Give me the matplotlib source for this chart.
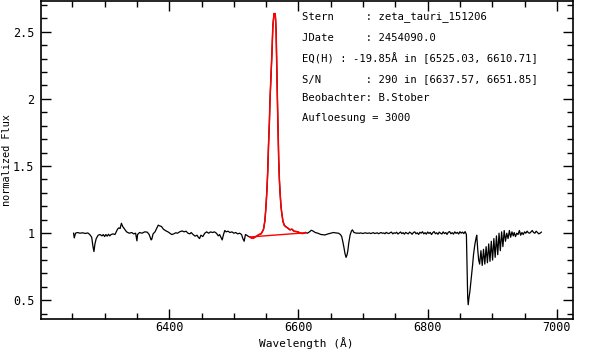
import numpy as np
import matplotlib
matplotlib.use("Agg")
import matplotlib.pyplot as plt
from matplotlib.ticker import MultipleLocator

# spectrum
wave = [6252, 6253, 6255, 6258, 6262, 6266, 6270, 6274, 6277, 6280, 6282, 6283.5, 6285, 6287,
        6290, 6293, 6296, 6298, 6300, 6302, 6304, 6306, 6308, 6310, 6313, 6316, 6318, 6320,
        6322, 6324, 6326, 6328, 6331, 6334, 6338, 6342, 6345, 6348, 6350, 6351, 6354, 6358,
        6362, 6366, 6369, 6372, 6373, 6375, 6378, 6381, 6383, 6385, 6388, 6391, 6394, 6398,
        6401, 6404, 6407, 6410, 6413, 6416, 6420, 6423, 6426, 6429, 6432, 6434, 6437, 6440,
        6443, 6445, 6447, 6449, 6452, 6455, 6458, 6461, 6464, 6467, 6470, 6473, 6476, 6478,
        6480, 6482, 6484, 6486, 6488, 6491, 6494, 6497, 6500, 6503, 6506, 6509, 6512, 6514,
        6516, 6518, 6520, 6523,
        6525.03, 6527, 6530, 6533, 6536, 6539, 6542, 6544, 6546, 6548, 6549.5, 6551, 6552.5,
        6553.6, 6555, 6556, 6557.5, 6559, 6560.4, 6561.5, 6562.4, 6563.2, 6564, 6564.8, 6565.5,
        6566.5, 6567.2, 6568, 6569.5, 6570.5, 6571.6, 6573, 6574.2, 6576, 6578, 6580, 6583,
        6587, 6590, 6593, 6597, 6600, 6603, 6606, 6609, 6610.71,
        6614, 6617, 6620, 6623, 6626, 6630, 6635, 6641, 6646, 6650, 6654, 6658, 6662, 6665,
        6667, 6669, 6670.6, 6672, 6673.7, 6675, 6676.3, 6678, 6680, 6682, 6683.5, 6686, 6690,
        6692, 6694, 6696, 6698, 6700, 6702, 6704, 6706, 6708, 6710, 6712, 6714, 6716, 6718,
        6720, 6722, 6724, 6726, 6728, 6730, 6732, 6734, 6736, 6738, 6740, 6742, 6744, 6746,
        6748, 6750, 6752, 6754, 6756, 6758, 6760, 6762, 6764, 6766, 6768, 6770, 6772, 6774,
        6776, 6778, 6780, 6782, 6784, 6786, 6788, 6790, 6792, 6794, 6796, 6798, 6800, 6802,
        6804, 6806, 6808, 6810, 6812, 6814, 6816, 6818, 6820, 6822, 6824, 6826, 6828, 6830,
        6832, 6834, 6836, 6838, 6840, 6842, 6844, 6846, 6848, 6850, 6852, 6854, 6856, 6858,
        6860, 6861, 6862, 6862.8, 6864, 6865.4, 6867, 6869.6, 6871, 6873, 6875,
        6876, 6877.5, 6879, 6880.5, 6882.5, 6884.5, 6886.5, 6888.5, 6890.5, 6892.5, 6894.5,
        6896.5, 6898.5, 6900.5, 6902.5, 6904.5, 6906.5, 6908.5, 6910.5, 6912.5, 6914.5, 6916.5,
        6918.5, 6920.5, 6922.5, 6924.5, 6926.5, 6928.5, 6930.5, 6932.5,
        6934, 6936, 6938, 6940, 6942, 6944, 6946, 6948, 6950, 6952, 6954, 6956,
        6958, 6960, 6962, 6964, 6966, 6968, 6970, 6972, 6974, 6976]
flux = [1.00, 0.965, 1.00, 1.005, 1.00, 1.003, 0.998, 1.002, 0.99, 0.97, 0.90, 0.863, 0.92, 0.96,
        0.985, 0.99, 0.98, 0.99, 0.975, 0.99, 0.978, 0.992, 0.98, 0.99, 0.995, 0.99, 1.01, 1.03,
        1.04, 1.035, 1.074, 1.05, 1.03, 1.01, 1.00, 1.005, 0.995, 1.00, 0.943, 0.99, 1.005, 1.00,
        1.01, 1.008, 0.99, 0.95, 0.955, 0.995, 1.01, 1.04, 1.06, 1.055, 1.05, 1.03, 1.02, 1.01,
        1.00, 0.99, 0.995, 1.003, 1.00, 1.01, 1.017, 1.01, 1.015, 1.00, 0.995, 1.005, 0.99, 0.978,
        0.985, 0.97, 0.96, 0.985, 0.975, 1.00, 1.01, 1.00, 1.01, 1.005, 1.01, 1.00, 0.98, 0.99,
        0.97, 0.95, 0.99, 1.02, 1.01, 1.015, 1.005, 1.01, 1.00, 1.005, 0.995, 1.00, 0.99, 0.96,
        0.94, 0.99, 0.985, 0.975,
        0.972, 0.965, 0.962, 0.972, 0.98, 0.99, 0.995, 1.01, 1.03, 1.09, 1.18, 1.30, 1.46,
        1.64, 1.82, 1.99, 2.17, 2.34, 2.54, 2.60, 2.636, 2.62, 2.636, 2.58, 2.49,
        2.24, 2.05, 1.87, 1.545, 1.40, 1.30, 1.20, 1.15, 1.09, 1.06, 1.05, 1.04,
        1.025, 1.03, 1.015, 1.012, 1.008, 1.00, 0.998, 1.00, 1.005,
        1.00, 1.01, 1.022, 1.015, 1.005, 1.00, 0.99, 0.987, 0.995, 1.00, 1.005, 1.002, 1.00, 0.99,
        0.975, 0.93, 0.89, 0.85, 0.82, 0.835, 0.864, 0.93, 0.987, 1.015, 1.025, 1.005, 1.00,
        1.001, 0.999, 1.002, 1.0, 0.998, 1.001, 1.003, 0.999, 1.0, 1.002, 0.997, 1.001, 1.004, 0.998,
        1.0, 1.003, 0.996, 1.001, 1.005, 0.999, 1.002, 0.996, 1.006, 1.0, 0.997, 1.004, 1.008, 0.995,
        1.003, 0.999, 1.007, 0.994, 1.002, 1.009, 0.997, 1.004, 0.993, 1.006, 1.0, 0.995, 1.008, 1.002,
        0.992, 1.005, 1.01, 0.996, 1.003, 0.991, 1.007, 1.0, 1.011, 0.995, 1.004, 0.993, 1.009, 0.998,
        1.006, 0.99, 1.004, 1.012, 0.996, 1.003, 0.992, 1.008, 1.0, 0.994, 1.01, 0.997, 1.005, 0.991,
        1.007, 1.012, 0.996, 1.004, 0.993, 1.01, 0.999, 1.006, 0.994, 1.011, 1.0, 1.008, 0.997, 1.012,
        0.99, 0.75, 0.52, 0.467, 0.52, 0.566, 0.64, 0.764, 0.84, 0.913, 0.965,
        0.985, 0.88, 0.80, 0.77, 0.87, 0.76, 0.88, 0.77, 0.90, 0.78, 0.92,
        0.79, 0.94, 0.80, 0.96, 0.82, 0.98, 0.84, 1.00, 0.87, 1.01, 0.90,
        1.02, 0.94, 1.00, 0.96, 1.02, 0.97, 1.01, 0.98,
        1.005, 0.975, 1.00, 0.99, 1.02, 0.985, 1.005, 0.99, 1.01, 1.00, 1.015, 1.003,
        1.00, 1.01, 1.02, 1.005, 1.00, 1.015, 1.005, 0.995, 1.00, 1.008]

eq_range = [6525.03, 6610.71]
cont_flux = [0.972, 1.003]

info = ["Stern     : zeta_tauri_151206",
        "JDate     : 2454090.0",
        "EQ(H) : -19.85\u00c5 in [6525.03, 6610.71]",
        "S/N       : 290 in [6637.57, 6651.85]",
        "Beobachter: B.Stober",
        "Aufloesung = 3000"]

wave = np.array(wave)
flux = np.array(flux)

plt.rcParams['font.family'] = ['DejaVu Sans Mono']

W, H = 596, 351
fig = plt.figure(figsize=(W/100, H/100), dpi=100)
ax = fig.add_axes([41.3/W, 32/H, (573-41.3)/W, 1 - 32/H - 0.5/H])

ax.plot(wave, flux, color="black", lw=0.9)
m = (wave >= eq_range[0]) & (wave <= eq_range[1])
ax.plot(wave[m], flux[m], color="red", lw=1.1)
ax.plot(eq_range, cont_flux, color="red", lw=1.0)

ax.set_xlim(6202, 7025)
ax.set_ylim(0.361, 2.733)

ax.xaxis.set_major_locator(MultipleLocator(200))
ax.xaxis.set_minor_locator(MultipleLocator(50))
ax.yaxis.set_minor_locator(MultipleLocator(0.1))
ax.set_yticks([0.5, 1, 1.5, 2, 2.5])
ax.set_yticklabels(["0.5", "1", "1.5", "2", "2.5"])

ax.tick_params(which="both", direction="in", top=True, right=True, width=1.0,
               labelsize=8.5)
ax.tick_params(axis="x", pad=1.5)
ax.tick_params(axis="y", pad=5)
ax.tick_params(which="major", length=7)
ax.tick_params(which="minor", length=4)
for s in ax.spines.values():
    s.set_linewidth(1.2)

# axis titles
fig.text(306/W, 1 - 343/H, "Wavelength (\u00c5)", fontsize=8, ha="center", va="center")
fig.text(7/W, 1 - 160.5/H, "normalized Flux", fontsize=7.4, ha="center", va="center",
         rotation=90)

ys = [16.7, 37.7, 58.3, 79.0, 98.3, 118.3]
for t, y in zip(info, ys):
    fig.text(302/W, 1 - y/H, t, fontsize=7.6, va="center", ha="left")

fig.savefig("out.png", dpi=100)
